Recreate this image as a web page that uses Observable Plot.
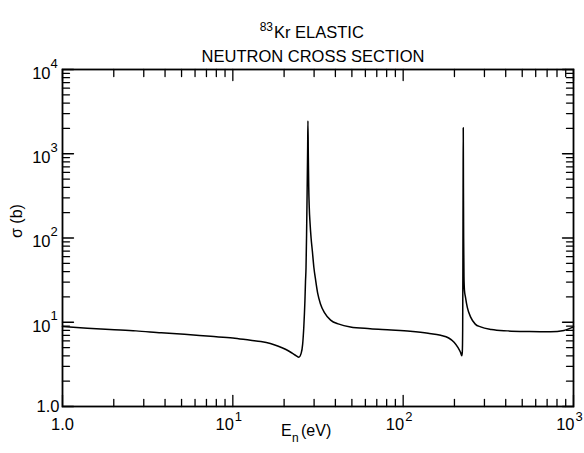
<!DOCTYPE html>
<html><head><meta charset="utf-8">
<script src="https://cdn.jsdelivr.net/npm/d3@7"></script>
<script src="https://cdn.jsdelivr.net/npm/@observablehq/plot@0.6"></script>
<style>body{margin:0;background:#fff} #chart svg{display:block}</style>
</head><body><div id="chart"></div>
<script>
// Neutron energy (eV) and elastic cross section (barns)
const energy = [1.0, 1.4, 1.9, 2.7, 3.8, 5.2, 7.4, 10, 12.7, 14.6, 16.6, 18.5, 20.5, 22.3, 23.6, 24.4, 25.2, 25.7, 26.1, 26.5, 26.7, 26.9, 27.1, 27.3, 27.5, 27.6, 27.75, 27.9, 28.1, 28.4, 28.8, 29.3, 29.9, 30.6, 31.5, 32.7, 34.5, 37.5, 42, 49, 64, 85, 110, 140, 166, 185, 199, 210, 217, 221, 222.5, 223.5, 224.2, 224.8, 225.3, 225.9, 226.5, 227.5, 229, 232, 238, 249, 265, 285, 330, 408, 550, 734, 880, 1000];
const sigma  = [8.9, 8.5, 8.2, 7.9, 7.5, 7.2, 6.8, 6.5, 6.1, 5.9, 5.6, 5.2, 4.75, 4.3, 4.0, 3.85, 4.3, 5.5, 8.8, 18, 30, 45, 110, 350, 1200, 2450, 900, 400, 230, 150, 100, 70, 45, 32, 22, 16.5, 13, 10.6, 9.5, 8.8, 8.4, 8.1, 7.8, 7.4, 7.0, 6.5, 5.8, 5.0, 4.4, 4.0, 4.5, 8, 40, 400, 2030, 400, 100, 35, 24, 20, 15, 11.5, 9.5, 8.8, 8.2, 7.9, 7.75, 7.7, 8.0, 8.8];

const xMajor = [1, 10, 100, 1000];
const xBase = ["1.0", "10", "10", "10"];
const xExp = ["", "1", "2", "3"];
const yMajor = [1, 10, 100, 1000, 10000];
const yBase = ["1.0", "10", "10", "10", "10"];
const yExp = ["", "1", "2", "3", "4"];
const minorMult = [2, 3, 4, 5, 6, 7, 8, 9];

const data = energy.map((e, i) => ({e, s: sigma[i]}));
const xMinor = xMajor.slice(0, -1).flatMap(d => minorMult.map(m => m * d));
const yMinor = yMajor.slice(0, -1).flatMap(d => minorMult.map(m => m * d));
const tickShape = {draw(ctx, l) { ctx.moveTo(0, 0); ctx.lineTo(0, -l); }};
const font = "'Liberation Sans', Arial, sans-serif";

function vt(vals, ch, len, frameAnchor, rotate) {
  return Plot.vector(vals, {[ch]: d => d, frameAnchor, length: len, rotate, anchor: "start", shape: tickShape, stroke: "black", strokeWidth: 1.3});
}
const xPlain = xMajor.map((d, i) => i).filter(i => !xExp[i]);
const xPow = xMajor.map((d, i) => i).filter(i => xExp[i]);
const yPlain = yMajor.map((d, i) => i).filter(i => !yExp[i]);
const yPow = yMajor.map((d, i) => i).filter(i => yExp[i]);

const chart = Plot.plot({
  width: 584, height: 453,
  marginLeft: 62, marginRight: 11, marginTop: 69, marginBottom: 47,
  style: {fontFamily: font, background: "white", color: "black"},
  x: {type: "log", domain: [1, 1000], axis: null},
  y: {type: "log", domain: [1, 10000], axis: null},
  marks: [
    vt(xMinor, "x", 7, "bottom", 0), vt(xMajor, "x", 11, "bottom", 0),
    vt(xMinor, "x", 7, "top", 180), vt(xMajor, "x", 11, "top", 180),
    vt(yMinor, "y", 7, "left", 90), vt(yMajor, "y", 11, "left", 90),
    vt(yMinor, "y", 7, "right", -90), vt(yMajor, "y", 11, "right", -90),
    Plot.frame({stroke: "black", strokeWidth: 1.8}),
    Plot.line(data, {x: "e", y: "s", stroke: "black", strokeWidth: 1.5, curve: "monotone-x"}),
    // x tick labels
    Plot.text(xPlain, {x: i => xMajor[i], text: i => xBase[i], frameAnchor: "bottom", dy: 23, fontSize: 16.5}),
    Plot.text(xPow, {x: i => xMajor[i], text: i => xBase[i], frameAnchor: "bottom", dy: 23, dx: 1, textAnchor: "end", fontSize: 16.5}),
    Plot.text(xPow, {x: i => xMajor[i], text: i => xExp[i], frameAnchor: "bottom", dy: 14, dx: 2, textAnchor: "start", fontSize: 13}),
    // y tick labels
    Plot.text(yPlain, {y: i => yMajor[i], text: i => yBase[i], frameAnchor: "left", dx: -3, textAnchor: "end", fontSize: 16.5}),
    Plot.text(yPow, {y: i => yMajor[i], text: i => yBase[i], frameAnchor: "left", dy: 4, dx: -12, textAnchor: "end", fontSize: 16.5}),
    Plot.text(yPow, {y: i => yMajor[i], text: i => yExp[i], frameAnchor: "left", dy: -6, dx: -12, textAnchor: "start", fontSize: 13}),
    // axis labels
    Plot.text(["E"], {frameAnchor: "bottom", dy: 29, dx: -37, textAnchor: "start", fontSize: 16}),
    Plot.text(["n"], {frameAnchor: "bottom", dy: 35, dx: -26, textAnchor: "start", fontSize: 12}),
    Plot.text(["(eV)"], {frameAnchor: "bottom", dy: 29, dx: -17, textAnchor: "start", fontSize: 16}),
    Plot.text(["σ (b)"], {frameAnchor: "left", dx: -46, rotate: -90, fontSize: 16}),
    // title
    Plot.text(["83"], {frameAnchor: "top", dy: -47, dx: -45, textAnchor: "end", fontSize: 12}),
    Plot.text(["Kr ELASTIC"], {frameAnchor: "top", dy: -43, dx: -44, textAnchor: "start", fontSize: 16.5}),
    Plot.text(["NEUTRON CROSS SECTION"], {frameAnchor: "top", dy: -19, dx: -5, fontSize: 16.5})
  ]
});
document.getElementById("chart").append(chart);
</script>
</body></html>
